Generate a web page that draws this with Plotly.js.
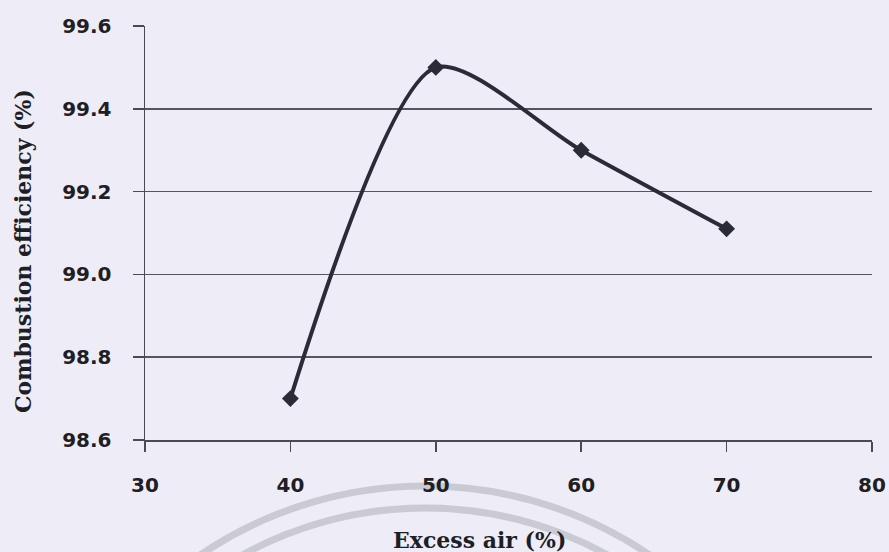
<!DOCTYPE html>
<html>
<head>
<meta charset="utf-8">
<script src="https://cdn.plot.ly/plotly-3.0.1.min.js"></script>
<style>html,body{margin:0;padding:0;background:#eeedf7;}</style>
</head>
<body>
<div id="chart" style="width:889px;height:552px;"></div>
<script>
const excessAir = [40, 50, 60, 70];
const efficiency = [98.70, 99.50, 99.30, 99.11];
const xTicks = [30, 40, 50, 60, 70, 80];
const yTicks = [98.6, 98.8, 99.0, 99.2, 99.4, 99.6];
const yTickText = ['98.6', '98.8', '99.0', '99.2', '99.4', '99.6'];
const xTitle = 'Excess air (%)';
const yTitle = 'Combustion efficiency (%)';

const W = 889, H = 552, L = 145, R = 17, T = 26, B = 112;
const pw = W - L - R, ph = H - T - B;
function px2x(p) { return (p - L) / pw; }
function px2y(p) { return (H - B - p) / ph; }

function ring(cx, cy, r) {
  return {type: 'circle', xref: 'paper', yref: 'paper', layer: 'below',
    x0: px2x(cx - r), x1: px2x(cx + r), y0: px2y(cy + r), y1: px2y(cy - r),
    line: {color: '#cacad2', width: 7}};
}

const trace = {
  x: excessAir, y: efficiency, type: 'scatter', mode: 'lines+markers',
  line: {shape: 'spline', smoothing: 0.75, color: '#2b2b38', width: 4},
  marker: {symbol: 'diamond', size: 13, color: '#2b2b38'},
  cliponaxis: false
};

const titleFont = {family: 'DejaVu Serif', size: 22, weight: 'bold', color: '#1e1e24'};

const layout = {
  width: W, height: H,
  margin: {l: L, r: R, t: T, b: B, pad: 0},
  paper_bgcolor: '#eeedf7', plot_bgcolor: '#eeedf7',
  showlegend: false,
  font: {family: 'DejaVu Sans', color: '#1e1e24'},
  xaxis: {
    range: [30, 80], tickvals: xTicks, ticktext: xTicks.map(String),
    showgrid: false, zeroline: false,
    showline: true, linecolor: '#4a4a55', linewidth: 1.5,
    ticks: 'outside', ticklen: 10, tickwidth: 1.5, tickcolor: '#4a4a55',
    ticklabelstandoff: 16,
    tickfont: {family: 'DejaVu Sans', size: 20, weight: 'bold', color: '#1e1e24'}
  },
  yaxis: {
    range: [98.6, 99.6], tickvals: yTicks, ticktext: yTickText,
    showgrid: true, gridcolor: '#55555e', gridwidth: 1.5, zeroline: false,
    showline: true, linecolor: '#4a4a55', linewidth: 1.5,
    ticks: 'outside', ticklen: 11, tickwidth: 1.5, tickcolor: '#4a4a55',
    ticklabelstandoff: 17,
    tickfont: {family: 'DejaVu Sans', size: 20, weight: 'bold', color: '#1e1e24'}
  },
  annotations: [
    {text: xTitle, xref: 'paper', yref: 'paper', x: px2x(479), y: px2y(540),
     xanchor: 'center', yanchor: 'middle', showarrow: false, font: titleFont},
    {text: yTitle, xref: 'paper', yref: 'paper', x: px2x(23), y: px2y(251),
     xanchor: 'center', yanchor: 'middle', textangle: -90, showarrow: false, font: titleFont}
  ],
  shapes: [ring(425, 886, 400), ring(425, 886, 378)]
};

Plotly.newPlot('chart', [trace], layout, {displayModeBar: false, staticPlot: true});
</script>
</body>
</html>
